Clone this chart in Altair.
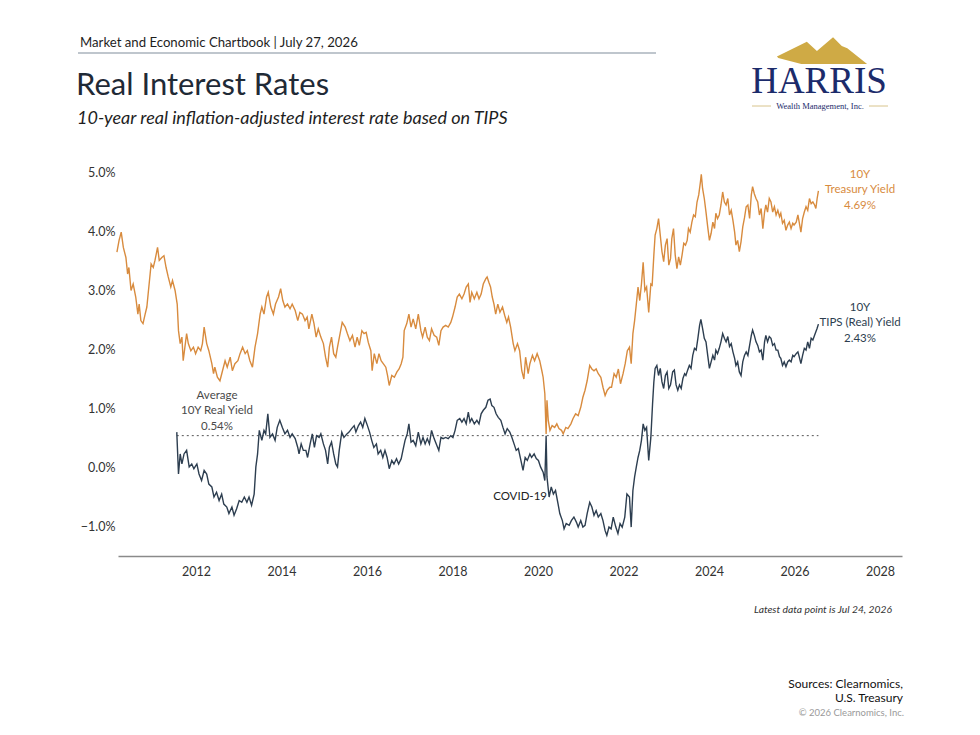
import altair as alt
import pandas as pd

# ---------------- data ----------------
# 10Y Treasury yield, (decimal year, %)
tsy_pts = [
    (2010.15, 3.65), (2010.20, 3.85), (2010.25, 3.99), (2010.30, 3.73), (2010.36, 3.56),
    (2010.40, 3.28), (2010.43, 3.39), (2010.48, 3.00), (2010.53, 3.11), (2010.59, 2.89),
    (2010.64, 2.60), (2010.67, 2.77), (2010.71, 2.49), (2010.76, 2.44), (2010.81, 2.60),
    (2010.85, 2.72), (2010.88, 2.94), (2010.95, 3.45), (2011.00, 3.39), (2011.04, 3.51),
    (2011.10, 3.73), (2011.14, 3.51), (2011.20, 3.56), (2011.25, 3.59), (2011.30, 3.39),
    (2011.35, 3.23), (2011.41, 3.06), (2011.45, 3.17), (2011.51, 3.00), (2011.56, 2.77),
    (2011.59, 2.32), (2011.63, 2.10), (2011.67, 2.21), (2011.70, 1.81), (2011.74, 2.04),
    (2011.78, 2.27), (2011.82, 2.10), (2011.88, 1.98), (2011.94, 2.04), (2011.99, 1.93),
    (2012.05, 2.04), (2012.11, 1.98), (2012.15, 2.10), (2012.19, 2.38), (2012.25, 2.10),
    (2012.30, 1.98), (2012.37, 1.76), (2012.41, 1.59), (2012.44, 1.70), (2012.50, 1.53),
    (2012.56, 1.47), (2012.62, 1.64), (2012.68, 1.81), (2012.73, 1.70), (2012.80, 1.87),
    (2012.85, 1.64), (2012.91, 1.76), (2012.98, 1.81), (2013.03, 1.93), (2013.09, 2.04),
    (2013.15, 1.93), (2013.20, 1.98), (2013.26, 1.81), (2013.32, 1.70), (2013.38, 2.04),
    (2013.44, 2.27), (2013.50, 2.60), (2013.54, 2.72), (2013.59, 2.60), (2013.65, 2.89),
    (2013.69, 2.97), (2013.75, 2.72), (2013.81, 2.60), (2013.86, 2.77), (2013.93, 2.89),
    (2013.98, 3.03), (2014.03, 2.83), (2014.08, 2.72), (2014.14, 2.77), (2014.20, 2.69),
    (2014.25, 2.77), (2014.32, 2.66), (2014.38, 2.49), (2014.43, 2.63), (2014.49, 2.60),
    (2014.55, 2.49), (2014.60, 2.55), (2014.64, 2.35), (2014.71, 2.60), (2014.76, 2.44),
    (2014.81, 2.21), (2014.86, 2.35), (2014.92, 2.21), (2014.98, 2.10), (2015.03, 1.87),
    (2015.08, 1.70), (2015.12, 2.04), (2015.17, 2.21), (2015.22, 1.93), (2015.27, 1.87),
    (2015.31, 2.04), (2015.37, 2.27), (2015.42, 2.46), (2015.49, 2.38), (2015.54, 2.27),
    (2015.60, 2.15), (2015.66, 2.24), (2015.72, 2.04), (2015.77, 2.21), (2015.82, 2.07),
    (2015.88, 2.32), (2015.93, 2.27), (2015.98, 2.29), (2016.03, 2.12), (2016.09, 1.98),
    (2016.12, 1.64), (2016.17, 1.93), (2016.23, 1.76), (2016.28, 1.93), (2016.33, 1.81),
    (2016.38, 1.76), (2016.44, 1.70), (2016.48, 1.56), (2016.52, 1.39), (2016.58, 1.56),
    (2016.64, 1.53), (2016.70, 1.62), (2016.75, 1.67), (2016.80, 1.76), (2016.84, 1.87),
    (2016.87, 2.32), (2016.93, 2.44), (2016.98, 2.60), (2017.03, 2.38), (2017.08, 2.52),
    (2017.14, 2.35), (2017.20, 2.60), (2017.26, 2.32), (2017.30, 2.21), (2017.36, 2.38),
    (2017.41, 2.21), (2017.46, 2.15), (2017.51, 2.35), (2017.57, 2.24), (2017.63, 2.21),
    (2017.68, 2.07), (2017.73, 2.32), (2017.78, 2.38), (2017.84, 2.41), (2017.90, 2.38),
    (2017.96, 2.46), (2018.00, 2.55), (2018.06, 2.72), (2018.11, 2.89), (2018.16, 2.94),
    (2018.22, 2.86), (2018.27, 2.94), (2018.32, 3.06), (2018.37, 3.11), (2018.41, 2.80),
    (2018.45, 2.97), (2018.51, 2.86), (2018.57, 2.97), (2018.62, 2.86), (2018.67, 2.94),
    (2018.72, 3.11), (2018.78, 3.20), (2018.81, 3.23), (2018.85, 3.14), (2018.89, 3.06),
    (2018.93, 2.89), (2018.97, 2.77), (2019.01, 2.60), (2019.06, 2.77), (2019.11, 2.63),
    (2019.17, 2.72), (2019.22, 2.58), (2019.27, 2.46), (2019.31, 2.55), (2019.36, 2.38),
    (2019.42, 2.10), (2019.46, 1.98), (2019.52, 2.10), (2019.57, 1.98), (2019.62, 1.64),
    (2019.67, 1.50), (2019.71, 1.87), (2019.77, 1.59), (2019.81, 1.76), (2019.87, 1.90),
    (2019.92, 1.81), (2019.98, 1.93), (2020.04, 1.81), (2020.09, 1.64), (2020.12, 1.53),
    (2020.16, 1.25), (2020.19, 0.57), (2020.21, 1.14), (2020.24, 0.80), (2020.28, 0.63),
    (2020.33, 0.71), (2020.39, 0.68), (2020.44, 0.74), (2020.49, 0.66), (2020.55, 0.63),
    (2020.59, 0.57), (2020.65, 0.68), (2020.70, 0.66), (2020.77, 0.74), (2020.82, 0.83),
    (2020.88, 0.91), (2020.94, 0.88), (2021.00, 1.02), (2021.05, 1.19), (2021.10, 1.31),
    (2021.15, 1.47), (2021.21, 1.73), (2021.26, 1.67), (2021.31, 1.64), (2021.36, 1.67),
    (2021.41, 1.59), (2021.47, 1.53), (2021.52, 1.36), (2021.57, 1.22), (2021.62, 1.31),
    (2021.68, 1.36), (2021.72, 1.36), (2021.78, 1.59), (2021.83, 1.53), (2021.88, 1.67),
    (2021.93, 1.42), (2021.99, 1.59), (2022.04, 1.76), (2022.09, 1.98), (2022.14, 2.04),
    (2022.18, 1.76), (2022.22, 2.27), (2022.26, 2.49), (2022.30, 2.77), (2022.34, 3.06),
    (2022.38, 2.83), (2022.42, 3.11), (2022.46, 3.48), (2022.50, 3.00), (2022.54, 3.06),
    (2022.59, 2.63), (2022.64, 3.11), (2022.67, 3.09), (2022.71, 3.60), (2022.74, 3.94),
    (2022.78, 4.05), (2022.82, 4.22), (2022.86, 3.94), (2022.90, 3.66), (2022.94, 3.49),
    (2022.98, 3.77), (2023.02, 3.88), (2023.06, 3.43), (2023.10, 3.54), (2023.13, 3.88),
    (2023.17, 4.05), (2023.21, 3.60), (2023.25, 3.37), (2023.29, 3.57), (2023.33, 3.43),
    (2023.37, 3.60), (2023.41, 3.80), (2023.45, 3.77), (2023.49, 3.85), (2023.52, 4.05),
    (2023.56, 3.99), (2023.60, 4.16), (2023.64, 4.28), (2023.68, 4.25), (2023.72, 4.50),
    (2023.76, 4.62), (2023.80, 4.84), (2023.82, 4.97), (2023.85, 4.73), (2023.89, 4.56),
    (2023.93, 4.33), (2023.97, 4.08), (2024.01, 3.85), (2024.05, 3.97), (2024.09, 4.16),
    (2024.13, 4.05), (2024.16, 4.31), (2024.20, 4.22), (2024.24, 4.28), (2024.28, 4.45),
    (2024.32, 4.67), (2024.36, 4.50), (2024.40, 4.45), (2024.44, 4.56), (2024.48, 4.28),
    (2024.52, 4.36), (2024.56, 4.19), (2024.60, 3.99), (2024.63, 3.77), (2024.67, 3.85),
    (2024.71, 3.66), (2024.75, 3.83), (2024.79, 4.08), (2024.83, 4.23), (2024.87, 4.42),
    (2024.91, 4.45), (2024.95, 4.22), (2024.99, 4.62), (2025.02, 4.76), (2025.06, 4.64),
    (2025.10, 4.56), (2025.14, 4.50), (2025.18, 4.28), (2025.22, 4.39), (2025.26, 4.05),
    (2025.30, 4.33), (2025.33, 4.45), (2025.37, 4.33), (2025.41, 4.56), (2025.45, 4.50),
    (2025.49, 4.33), (2025.53, 4.42), (2025.57, 4.28), (2025.61, 4.36), (2025.65, 4.25),
    (2025.68, 4.31), (2025.72, 4.14), (2025.76, 4.19), (2025.80, 4.02), (2025.84, 4.11),
    (2025.88, 4.16), (2025.92, 4.05), (2025.96, 4.14), (2025.99, 4.11), (2026.04, 4.16),
    (2026.08, 4.28), (2026.11, 4.16), (2026.15, 3.99), (2026.19, 4.22), (2026.23, 4.33),
    (2026.27, 4.42), (2026.31, 4.36), (2026.35, 4.56), (2026.39, 4.47), (2026.43, 4.50),
    (2026.47, 4.45), (2026.50, 4.39), (2026.53, 4.56), (2026.56, 4.69),
]

# 10Y TIPS (real) yield, (decimal year, %)
tips_pts = [
    (2011.55, 0.60), (2011.59, -0.11), (2011.63, 0.23), (2011.67, 0.06), (2011.72, 0.23),
    (2011.78, 0.29), (2011.84, 0.01), (2011.90, 0.06), (2011.95, -0.02), (2012.02, 0.06),
    (2012.07, -0.11), (2012.13, -0.22), (2012.19, -0.05), (2012.25, -0.11), (2012.30, -0.28),
    (2012.37, -0.33), (2012.42, -0.50), (2012.48, -0.42), (2012.54, -0.56), (2012.60, -0.45),
    (2012.65, -0.62), (2012.72, -0.67), (2012.77, -0.78), (2012.84, -0.67), (2012.89, -0.81),
    (2012.95, -0.70), (2013.01, -0.56), (2013.07, -0.59), (2013.13, -0.50), (2013.19, -0.59),
    (2013.24, -0.50), (2013.30, -0.64), (2013.36, -0.45), (2013.40, 0.01), (2013.44, 0.23),
    (2013.48, 0.63), (2013.54, 0.46), (2013.59, 0.63), (2013.63, 0.57), (2013.68, 0.91),
    (2013.73, 0.51), (2013.79, 0.57), (2013.85, 0.46), (2013.90, 0.68), (2013.96, 0.80),
    (2014.02, 0.68), (2014.08, 0.57), (2014.14, 0.63), (2014.20, 0.51), (2014.25, 0.57),
    (2014.32, 0.49), (2014.38, 0.34), (2014.41, 0.23), (2014.46, 0.40), (2014.51, 0.29),
    (2014.57, 0.29), (2014.61, 0.17), (2014.67, 0.40), (2014.72, 0.57), (2014.77, 0.34),
    (2014.82, 0.54), (2014.88, 0.51), (2014.92, 0.57), (2014.98, 0.40), (2015.03, 0.29),
    (2015.08, 0.06), (2015.12, 0.34), (2015.17, 0.43), (2015.22, 0.23), (2015.27, 0.06),
    (2015.31, 0.01), (2015.35, 0.29), (2015.41, 0.60), (2015.46, 0.51), (2015.53, 0.57),
    (2015.58, 0.60), (2015.64, 0.66), (2015.70, 0.71), (2015.74, 0.60), (2015.80, 0.71),
    (2015.85, 0.77), (2015.90, 0.68), (2015.95, 0.83), (2016.01, 0.71), (2016.06, 0.60),
    (2016.11, 0.46), (2016.16, 0.34), (2016.22, 0.40), (2016.26, 0.23), (2016.32, 0.29),
    (2016.37, 0.17), (2016.42, 0.29), (2016.47, 0.17), (2016.52, -0.02), (2016.58, 0.12),
    (2016.63, 0.06), (2016.69, 0.15), (2016.74, 0.06), (2016.80, 0.15), (2016.84, 0.29),
    (2016.89, 0.46), (2016.94, 0.57), (2016.98, 0.74), (2017.03, 0.43), (2017.08, 0.46),
    (2017.14, 0.37), (2017.20, 0.60), (2017.26, 0.40), (2017.31, 0.51), (2017.36, 0.40),
    (2017.41, 0.49), (2017.46, 0.40), (2017.51, 0.63), (2017.57, 0.49), (2017.62, 0.40),
    (2017.68, 0.29), (2017.73, 0.51), (2017.78, 0.49), (2017.84, 0.51), (2017.90, 0.49),
    (2017.96, 0.54), (2018.01, 0.51), (2018.06, 0.63), (2018.11, 0.80), (2018.17, 0.83),
    (2018.22, 0.77), (2018.27, 0.83), (2018.32, 0.74), (2018.37, 0.94), (2018.41, 0.77),
    (2018.45, 0.83), (2018.51, 0.74), (2018.57, 0.80), (2018.62, 0.74), (2018.67, 0.91),
    (2018.72, 0.97), (2018.78, 1.02), (2018.83, 1.14), (2018.88, 1.16), (2018.92, 1.05),
    (2018.97, 1.02), (2019.02, 0.91), (2019.07, 0.85), (2019.13, 0.80), (2019.18, 0.68),
    (2019.23, 0.57), (2019.28, 0.66), (2019.34, 0.60), (2019.39, 0.51), (2019.44, 0.40),
    (2019.49, 0.29), (2019.54, 0.32), (2019.60, 0.12), (2019.65, -0.05), (2019.70, 0.17),
    (2019.75, 0.12), (2019.81, 0.23), (2019.85, 0.17), (2019.91, 0.23), (2019.96, 0.15),
    (2020.01, 0.12), (2020.06, 0.01), (2020.12, -0.08), (2020.16, -0.22), (2020.19, 0.54),
    (2020.21, -0.16), (2020.26, -0.50), (2020.31, -0.33), (2020.36, -0.45), (2020.41, -0.39),
    (2020.47, -0.62), (2020.51, -0.78), (2020.57, -0.90), (2020.61, -1.04), (2020.66, -0.95),
    (2020.73, -0.98), (2020.78, -0.90), (2020.84, -0.84), (2020.90, -0.93), (2020.94, -1.01),
    (2021.00, -0.90), (2021.05, -1.01), (2021.10, -0.98), (2021.15, -0.78), (2021.21, -0.59),
    (2021.26, -0.67), (2021.31, -0.81), (2021.36, -0.73), (2021.41, -0.84), (2021.47, -0.78),
    (2021.52, -0.90), (2021.57, -1.07), (2021.61, -1.15), (2021.66, -1.01), (2021.71, -1.04),
    (2021.76, -0.84), (2021.82, -1.01), (2021.87, -1.12), (2021.92, -0.95), (2021.97, -1.01),
    (2022.03, -0.84), (2022.08, -0.45), (2022.14, -0.50), (2022.18, -1.01), (2022.22, -0.39),
    (2022.26, -0.16), (2022.30, 0.01), (2022.34, 0.17), (2022.38, 0.29), (2022.42, 0.46),
    (2022.46, 0.74), (2022.50, 0.63), (2022.54, 0.68), (2022.59, 0.12), (2022.64, 0.51),
    (2022.68, 1.08), (2022.71, 1.45), (2022.74, 1.68), (2022.78, 1.73), (2022.82, 1.56),
    (2022.86, 1.68), (2022.90, 1.45), (2022.94, 1.34), (2022.98, 1.56), (2023.02, 1.62),
    (2023.06, 1.34), (2023.10, 1.40), (2023.15, 1.62), (2023.19, 1.65), (2023.23, 1.40),
    (2023.27, 1.31), (2023.31, 1.40), (2023.35, 1.34), (2023.39, 1.51), (2023.43, 1.59),
    (2023.46, 1.56), (2023.50, 1.65), (2023.54, 1.73), (2023.58, 1.68), (2023.62, 1.90),
    (2023.66, 2.02), (2023.70, 1.99), (2023.74, 2.19), (2023.78, 2.41), (2023.81, 2.51),
    (2023.85, 2.36), (2023.89, 2.19), (2023.93, 2.13), (2023.97, 1.90), (2024.01, 1.68),
    (2024.05, 1.79), (2024.09, 1.90), (2024.13, 1.82), (2024.16, 1.99), (2024.20, 1.93),
    (2024.24, 2.02), (2024.28, 2.13), (2024.32, 2.27), (2024.36, 2.19), (2024.40, 2.13),
    (2024.44, 2.22), (2024.48, 2.05), (2024.52, 2.10), (2024.56, 1.96), (2024.60, 1.85),
    (2024.63, 1.73), (2024.67, 1.79), (2024.71, 1.62), (2024.75, 1.56), (2024.79, 1.79),
    (2024.83, 1.90), (2024.87, 1.96), (2024.91, 1.90), (2024.95, 2.07), (2024.99, 2.24),
    (2025.02, 2.33), (2025.06, 2.24), (2025.10, 2.13), (2025.14, 2.07), (2025.18, 1.96),
    (2025.22, 1.99), (2025.26, 1.82), (2025.30, 2.13), (2025.33, 2.24), (2025.37, 2.13),
    (2025.41, 2.22), (2025.45, 2.19), (2025.49, 2.07), (2025.53, 2.10), (2025.57, 1.99),
    (2025.61, 1.99), (2025.65, 1.88), (2025.68, 1.85), (2025.72, 1.73), (2025.76, 1.79),
    (2025.80, 1.71), (2025.84, 1.79), (2025.88, 1.82), (2025.92, 1.79), (2025.96, 1.90),
    (2025.99, 1.88), (2026.04, 1.93), (2026.08, 1.96), (2026.11, 1.88), (2026.15, 1.76),
    (2026.19, 1.90), (2026.23, 2.02), (2026.27, 1.99), (2026.31, 2.13), (2026.35, 2.02),
    (2026.39, 2.19), (2026.43, 2.16), (2026.47, 2.24), (2026.50, 2.30), (2026.53, 2.36),
    (2026.56, 2.43),
]

avg_real = 0.54
x_ticks = [2012, 2014, 2016, 2018, 2020, 2022, 2024, 2026, 2028]
y_ticks = [-1, 0, 1, 2, 3, 4, 5]

# ---------------- styling ----------------
FONT = "Lato"
SERIF = "Liberation Serif"
ORANGE = "#D88B3E"
NAVY = "#2D3E50"
W, H = 784, 400
X_DOM = [2010.175, 2028.515]
Y_DOM = [-1.5, 5.28]

tsy = pd.DataFrame(tsy_pts, columns=["year", "value"])
tips = pd.DataFrame(tips_pts, columns=["year", "value"])
avg = pd.DataFrame({"year": [tips_pts[0][0]], "year2": [tips_pts[-1][0]], "value": [avg_real]})

xs = alt.Scale(domain=X_DOM, nice=False, zero=False)
ys = alt.Scale(domain=Y_DOM, nice=False, zero=False)

x_axis = alt.Axis(values=x_ticks, format="d", title=None, grid=False, ticks=False,
                  domain=True, domainColor="#8a8a8a", domainWidth=1.5,
                  labelFont=FONT, labelFontSize=12.5, labelColor="#333333", labelPadding=9)
y_axis = alt.Axis(values=y_ticks, title=None, grid=False, ticks=False, domain=False,
                  labelExpr="format(datum.value, '.1f') + '%'",
                  labelFont=FONT, labelFontSize=12.5, labelColor="#333333", labelPadding=3)

tsy_line = alt.Chart(tsy).mark_line(color=ORANGE, strokeWidth=1.4).encode(
    x=alt.X("year:Q", scale=xs, axis=x_axis), y=alt.Y("value:Q", scale=ys, axis=y_axis))
tips_line = alt.Chart(tips).mark_line(color=NAVY, strokeWidth=1.4).encode(
    x=alt.X("year:Q", scale=xs), y=alt.Y("value:Q", scale=ys))
avg_rule = alt.Chart(avg).mark_rule(color="#555555", strokeWidth=1, strokeDash=[2, 3]).encode(
    x=alt.X("year:Q", scale=xs), x2="year2:Q", y=alt.Y("value:Q", scale=ys))

one = alt.Data(values=[{"k": 1}])


def txt(text, x, y, size=12, color="#333333", align="center", style="normal",
        weight="normal", font=FONT, baseline="middle"):
    return alt.Chart(one).mark_text(text=text, align=align, baseline=baseline, fontSize=size,
                                    color=color, fontStyle=style, fontWeight=weight,
                                    font=font).encode(x=alt.value(x), y=alt.value(y))


# plot-area origin is at page (118, 156)
OX, OY = 118, 156
texts = [
    txt("Market and Economic Chartbook | July 27, 2026", 80 - OX, 47 - OY, size=13.2,
        color="#1e1e1e", align="left", baseline="alphabetic"),
    txt("Real Interest Rates", 76 - OX, 95 - OY, size=31, color="#1f2a36", align="left",
        baseline="alphabetic"),
    txt("10-year real inflation-adjusted interest rate based on TIPS", 77 - OX, 124 - OY,
        size=18, color="#1e1e1e", align="left", style="italic", baseline="alphabetic"),
    # annotations
    txt("Average", 217 - OX, 396 - OY, size=11.5, color="#4a4a4a"),
    txt("10Y Real Yield", 217 - OX, 411 - OY, size=11.5, color="#4a4a4a"),
    txt("0.54%", 217 - OX, 427 - OY, size=11.5, color="#4a4a4a"),
    txt("COVID-19", 547 - OX, 497 - OY, size=11.5, color="#222222", align="right"),
    txt("10Y", 860 - OX, 175 - OY, size=11.5, color=ORANGE),
    txt("Treasury Yield", 860 - OX, 190 - OY, size=11.5, color=ORANGE),
    txt("4.69%", 860 - OX, 206 - OY, size=11.5, color=ORANGE),
    txt("10Y", 860 - OX, 308 - OY, size=11.5, color=NAVY),
    txt("TIPS (Real) Yield", 860 - OX, 323 - OY, size=11.5, color=NAVY),
    txt("2.43%", 860 - OX, 339 - OY, size=11.5, color=NAVY),
    # footer
    txt("Latest data point is Jul 24, 2026", 892 - OX, 610 - OY, size=10.3, color="#333333",
        align="right", style="italic"),
    txt("Sources: Clearnomics,", 903 - OX, 684 - OY, size=12, color="#111111", align="right"),
    txt("U.S. Treasury", 903 - OX, 698 - OY, size=12, color="#111111", align="right"),
    txt("\u00a9 2026 Clearnomics, Inc.", 904 - OX, 713 - OY, size=9.5, color="#9a9a9a",
        align="right"),
    # logo
    txt("HARRIS", 819 - OX, 93 - OY, size=37, color="#1c2b6b", font=SERIF, baseline="alphabetic"),
    txt("Wealth Management, Inc.", 820 - OX, 106 - OY, size=8.5, color="#1c2b6b", font=SERIF),
]

header_rule = alt.Chart(one).mark_rule(color="#aab3bd", strokeWidth=1.5).encode(
    x=alt.value(78 - OX), x2=alt.value(656 - OX), y=alt.value(53 - OY))
logo_rule_l = alt.Chart(one).mark_rule(color="#d8c48c", strokeWidth=1).encode(
    x=alt.value(752 - OX), x2=alt.value(771 - OX), y=alt.value(106 - OY))
logo_rule_r = alt.Chart(one).mark_rule(color="#d8c48c", strokeWidth=1).encode(
    x=alt.value(869 - OX), x2=alt.value(888 - OX), y=alt.value(106 - OY))
mountain_path = ("M -0.98 0.12 L -0.33 -0.2 L -0.11 0 L 0.24 -0.3 L 0.43 -0.11 "
                 "L 0.55 -0.06 L 0.98 0.28 L -0.45 0.28 L -0.95 0.15 Z")
mountains = alt.Chart(one).mark_point(shape=mountain_path, size=8464, filled=True,
                                      color="#cfaa45", opacity=1, strokeWidth=0).encode(
    x=alt.value(822 - OX), y=alt.value(51 - OY))

chart = alt.layer(
    header_rule, logo_rule_l, logo_rule_r, mountains,
    tsy_line, avg_rule, tips_line, *texts
).properties(
    width=W, height=H,
    autosize=alt.AutoSizeParams(type="none"),
    padding={"left": 110, "top": 148, "right": 70, "bottom": 163},
    background="white",
).configure_view(stroke=None)

chart.save("out.html", embed_options={"renderer": "svg", "actions": False})
